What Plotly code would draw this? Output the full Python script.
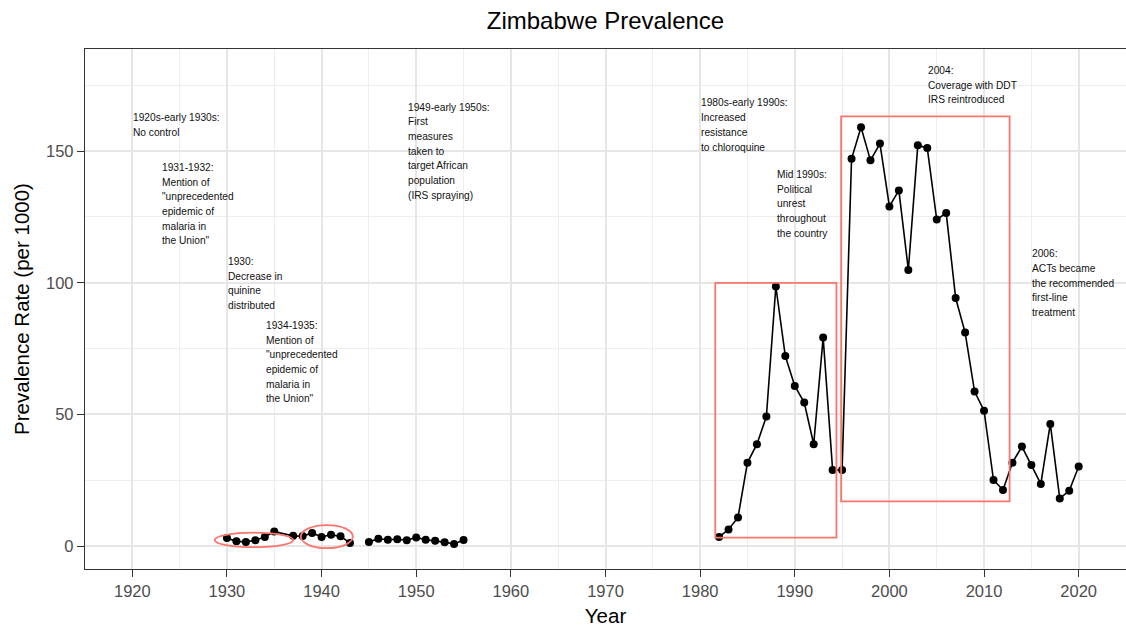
import plotly.graph_objects as go

# ---- data ----
early_years = [1930, 1931, 1932, 1933, 1934, 1935, 1937, 1938, 1939, 1940, 1941, 1942, 1943]
early_values = [3.1, 1.8, 1.6, 2.2, 3.5, 5.5, 3.9, 3.8, 5.0, 3.5, 4.3, 3.7, 1.2]

mid_years = [1945, 1946, 1947, 1948, 1949, 1950, 1951, 1952, 1953, 1954, 1955]
mid_values = [1.6, 2.8, 2.4, 2.6, 2.2, 3.3, 2.4, 2.0, 1.5, 0.8, 2.3]

late_years = list(range(1982, 2021))
late_values = [3.5, 6.3, 10.9, 31.7, 38.7, 49.2, 98.6, 72.2, 60.8, 54.5, 38.7, 79.2,
               28.9, 28.9, 147.1, 159.1, 146.5, 152.9, 129.0, 135.1, 104.9, 152.2,
               151.2, 124.0, 126.5, 94.2, 81.1, 58.7, 51.4, 25.1, 21.3, 31.7, 37.8,
               30.8, 23.6, 46.4, 18.1, 21.0, 30.2]

x_ticks = [1920, 1930, 1940, 1950, 1960, 1970, 1980, 1990, 2000, 2010, 2020]
y_ticks = [0, 50, 100, 150]

# highlighted periods: (x0, x1, y0, y1)
boxes = [(1981.6, 1994.4, 3.2, 100.0), (1994.9, 2012.7, 17.0, 163.2)]
ellipses = [(1928.7, 1937.0, -0.4, 5.1), (1937.8, 1943.3, -0.8, 8.0)]

# annotations: (x, y of first line, lines)
notes = [
    (1920, 162.7, ["1920s-early 1930s:", "No control"]),
    (1923, 143.8, ["1931-1932:", "Mention of", "\"unprecedented", "epidemic of", "malaria in", "the Union\""]),
    (1930, 108.1, ["1930:", "Decrease in", "quinine", "distributed"]),
    (1934, 83.8, ["1934-1935:", "Mention of", "\"unprecedented", "epidemic of", "malaria in", "the Union\""]),
    (1949, 166.7, ["1949-early 1950s:", "First", "measures", "taken to", "target African", "population", "(IRS spraying)"]),
    (1980, 168.3, ["1980s-early 1990s:", "Increased", "resistance", "to chloroquine"]),
    (1988, 141.1, ["Mid 1990s:", "Political", "unrest", "throughout", "the country"]),
    (2004, 180.6, ["2004:", "Coverage with DDT", "IRS reintroduced"]),
    (2015, 111.0, ["2006:", "ACTs became", "the recommended", "first-line", "treatment"]),
]

FONT = "Liberation Sans, Arial, Helvetica, sans-serif"
SALMON = "#F8766D"
LINE_SPACING = 14.7

fig = go.Figure()
for xs, ys in [(early_years, early_values), (mid_years, mid_values), (late_years, late_values)]:
    fig.add_trace(go.Scatter(
        x=xs, y=ys, mode="lines+markers",
        line=dict(color="black", width=1.6),
        marker=dict(color="black", size=8),
        showlegend=False, hoverinfo="x+y",
    ))

shapes = []
for x0, x1, y0, y1 in boxes:
    shapes.append(dict(type="rect", xref="x", yref="y", x0=x0, x1=x1, y0=y0, y1=y1,
                       line=dict(color=SALMON, width=1.8), fillcolor="rgba(0,0,0,0)"))
for x0, x1, y0, y1 in ellipses:
    shapes.append(dict(type="circle", xref="x", yref="y", x0=x0, x1=x1, y0=y0, y1=y1,
                       line=dict(color=SALMON, width=1.8), fillcolor="rgba(0,0,0,0)"))

annotations = []
for x, y, lines in notes:
    for i, line in enumerate(lines):
        annotations.append(dict(
            x=x, y=y, xref="x", yref="y", text=line, showarrow=False,
            xanchor="left", yanchor="middle", yshift=-i * LINE_SPACING, xshift=-1,
            font=dict(family=FONT, size=10.2, color="#111111"),
        ))

fig.update_layout(
    width=1126, height=627,
    margin=dict(l=85, r=0, t=49, b=58),
    paper_bgcolor="white", plot_bgcolor="white",
    font=dict(family=FONT),
    title=dict(text="Zimbabwe Prevalence", x=0.5, xref="paper", xanchor="center",
               y=1 - 20.7 / 627, yref="container", yanchor="middle",
               font=dict(family=FONT, size=24, color="black")),
    shapes=shapes,
    annotations=annotations,
)

axis_common = dict(
    showline=True, mirror=True, linecolor="#333333", linewidth=1.3,
    ticks="outside", ticklen=7, tickwidth=1.3, tickcolor="#333333",
    showgrid=True, gridcolor="#E6E6E6", gridwidth=1.6,
    zeroline=False,
    tickfont=dict(family=FONT, size=16.5, color="#4D4D4D"),
)

fig.update_xaxes(
    range=[1915, 2025], tickvals=x_ticks, ticktext=[str(v) for v in x_ticks],
    minor=dict(dtick=5, tick0=1915, showgrid=True, gridcolor="#EEEEEE", gridwidth=0.9, ticks=""),
    title=dict(text="Year", font=dict(family=FONT, size=20.5, color="black"), standoff=9),
    **axis_common,
)
fig.update_yaxes(
    range=[-8.7, 188.8], tickvals=y_ticks, ticktext=[str(v) for v in y_ticks],
    minor=dict(dtick=25, tick0=25, showgrid=True, gridcolor="#EEEEEE", gridwidth=0.9, ticks=""),
    title=dict(text="Prevalence Rate (per 1000)", font=dict(family=FONT, size=20.5, color="black"), standoff=10),
    **axis_common,
)

fig.write_html("out.html")
